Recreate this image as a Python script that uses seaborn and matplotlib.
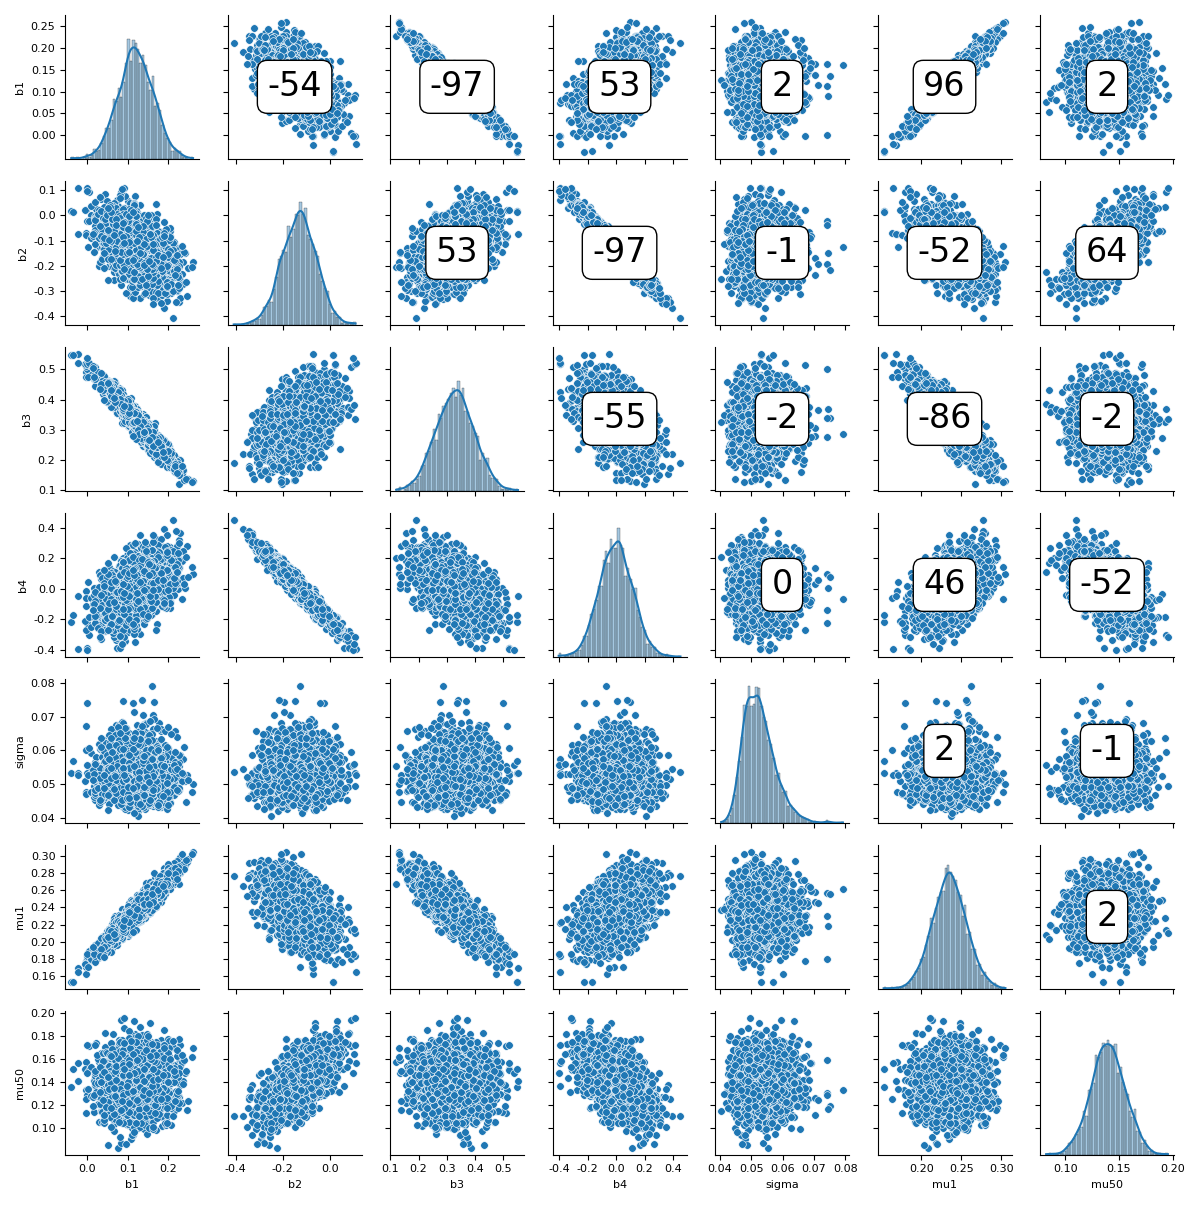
import numpy as np
import pandas as pd
import matplotlib
matplotlib.use("Agg")
import matplotlib.pyplot as plt
import seaborn as sns

# parameter names and summary stats
names = ["b1", "b2", "b3", "b4", "sigma", "mu1", "mu50"]
means = [0.12, -0.13, 0.33, 0.0, 0.053, 0.235, 0.14]
stds = [0.045, 0.075, 0.07, 0.12, 0.0065, 0.022, 0.016]

# correlations (percent) as annotated in the upper triangle
corr_pct = [
    [100, -54, -97, 53, 2, 96, 2],
    [-54, 100, 53, -97, -1, -52, 64],
    [-97, 53, 100, -55, -2, -86, -2],
    [53, -97, -55, 100, 0, 46, -52],
    [2, -1, -2, 0, 100, 2, -1],
    [96, -52, -86, 46, 2, 100, 2],
    [2, 64, -2, -52, -1, 2, 100],
]
n_samples = 3000

# tick positions per variable (x, y)
xticks = {
    "b1": [0.0, 0.1, 0.2], "b2": [-0.4, -0.2, 0.0], "b3": [0.1, 0.2, 0.3, 0.4, 0.5],
    "b4": [-0.4, -0.2, 0.0, 0.2, 0.4], "sigma": [0.04, 0.05, 0.06, 0.07, 0.08],
    "mu1": [0.20, 0.25, 0.30], "mu50": [0.10, 0.15, 0.20],
}
yticks = {
    "b1": [0.0, 0.05, 0.1, 0.15, 0.2, 0.25], "b2": [-0.4, -0.3, -0.2, -0.1, 0.0, 0.1],
    "b3": [0.1, 0.2, 0.3, 0.4, 0.5], "b4": [-0.4, -0.2, 0.0, 0.2, 0.4],
    "sigma": [0.04, 0.05, 0.06, 0.07, 0.08],
    "mu1": [0.16, 0.18, 0.20, 0.22, 0.24, 0.26, 0.28, 0.30],
    "mu50": [0.10, 0.12, 0.14, 0.16, 0.18, 0.20],
}
xfmt = {"b1": "%.1f", "b2": "%.1f", "b3": "%.1f", "b4": "%.1f", "sigma": "%.2f", "mu1": "%.2f", "mu50": "%.2f"}
yfmt = {"b1": "%.2f", "b2": "%.1f", "b3": "%.1f", "b4": "%.1f", "sigma": "%.2f", "mu1": "%.2f", "mu50": "%.2f"}

corr = np.array(corr_pct, dtype=float) / 100
w, v = np.linalg.eigh(corr)
corr = v @ np.diag(np.clip(w, 1e-4, None)) @ v.T
d = np.sqrt(np.diag(corr))
corr = corr / np.outer(d, d)

rng = np.random.default_rng(1)
z = rng.multivariate_normal(np.zeros(len(names)), corr, size=n_samples)
samples = np.array(means) + z * np.array(stds)
# sigma posterior is right-skewed and bounded below
samples[:, 4] = 0.034 + 0.018 * np.exp(z[:, 4] * 0.26)
df = pd.DataFrame(samples, columns=names)

plt.rcParams.update({"xtick.labelsize": 8, "ytick.labelsize": 8, "axes.labelsize": 8})

g = sns.pairplot(df, height=1.714, diag_kind="hist",
                 diag_kws=dict(kde=True, bins=50, alpha=0.4),
                 plot_kws=dict(s=30))
for ax in g.diag_axes:
    ax.relim()
    ax.autoscale(axis="y")
    ax.set_ylim(0, None)

for i, yn in enumerate(names):
    for j, xn in enumerate(names):
        ax = g.axes[i, j]
        ax.set_xticks(xticks[xn])
        ax.xaxis.set_major_formatter(matplotlib.ticker.FormatStrFormatter(xfmt[xn]))
        if i != j:
            ax.set_yticks(yticks[yn])
            ax.yaxis.set_major_formatter(matplotlib.ticker.FormatStrFormatter(yfmt[yn]))
        if j > i:
            ax.text(0.5, 0.5, f"{corr_pct[i][j]}", transform=ax.transAxes,
                    ha="center", va="center", fontsize=24,
                    bbox=dict(boxstyle="round,pad=0.3", fc="white", ec="black"))

g.figure.set_size_inches(12, 12.05)
g.figure.tight_layout()
g.figure.savefig("out.png", dpi=100)
